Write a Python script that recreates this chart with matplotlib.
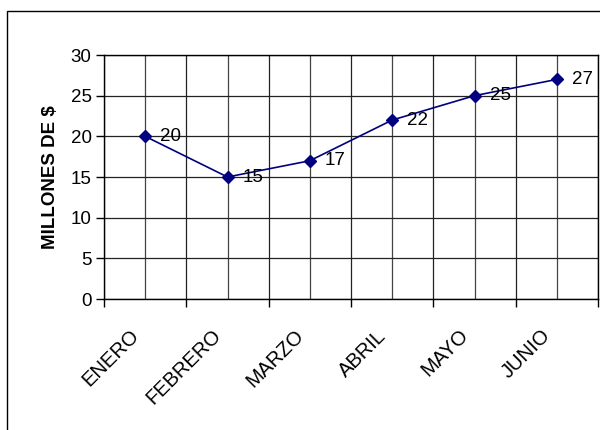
import matplotlib
matplotlib.use("Agg")
from matplotlib import pyplot as plt
from matplotlib.patches import Rectangle
from matplotlib.transforms import ScaledTranslation

meses = ["ENERO", "FEBRERO", "MARZO", "ABRIL", "MAYO", "JUNIO"]
valores = [20, 15, 17, 22, 25, 27]
yticks = [0, 5, 10, 15, 20, 25, 30]

plt.rcParams['font.family'] = ['Liberation Sans', 'DejaVu Sans']

fig = plt.figure(figsize=(6, 4.3), dpi=100)
# outer chart frame
fig.patches.append(Rectangle((7 / 600, -0.1), 1.2, 1.1 - 11 / 430,
                             transform=fig.transFigure, fill=False,
                             edgecolor="black", linewidth=1.0))
ax = fig.add_axes([104 / 600, 1 - 299 / 430, 494 / 600, 244 / 430])

x = [i + 0.5 for i in range(len(meses))]
ax.plot(x, valores, color="#000080", linewidth=1.2, marker="D",
        markersize=6.5, markerfacecolor="#000080", markeredgecolor="#000080",
        zorder=3)
for xi, v in zip(x, valores):
    ax.annotate(str(v), (xi, v), xytext=(11, 0), textcoords="offset points",
                ha="left", va="center", fontsize=13.5)

ax.set_xlim(0, len(meses))
ax.set_ylim(0, 30)
ax.set_yticks(yticks)
ax.set_xticks(range(len(meses) + 1))
ax.set_xticklabels([])
ax.set_xticks(x, minor=True)
ax.tick_params(axis="x", which="minor", length=0)
ax.tick_params(axis="x", which="major", length=6, direction="out", width=1)
ax.tick_params(axis="y", length=6, direction="out", width=1, labelsize=13.5, pad=3)

# category labels, rotated like Excel
off = ax.get_xaxis_transform() + ScaledTranslation(-16 / 100, -27 / 100, fig.dpi_scale_trans)
for xi, m in zip(x, meses):
    ax.text(xi, 0, m, transform=off, rotation=45, rotation_mode="anchor",
            ha="right", va="top", fontsize=14.5, clip_on=False)

ax.grid(True, which="major", color="#222222", linewidth=0.9)
ax.grid(True, which="minor", axis="x", color="#444444", linewidth=0.9)
ax.set_axisbelow(True)
for s in ax.spines.values():
    s.set_color("black")
    s.set_linewidth(1.0)

ax.set_ylabel("MILLONES DE $", fontsize=13.5, fontweight="bold", labelpad=8)

fig.savefig("out.png", dpi=100)
